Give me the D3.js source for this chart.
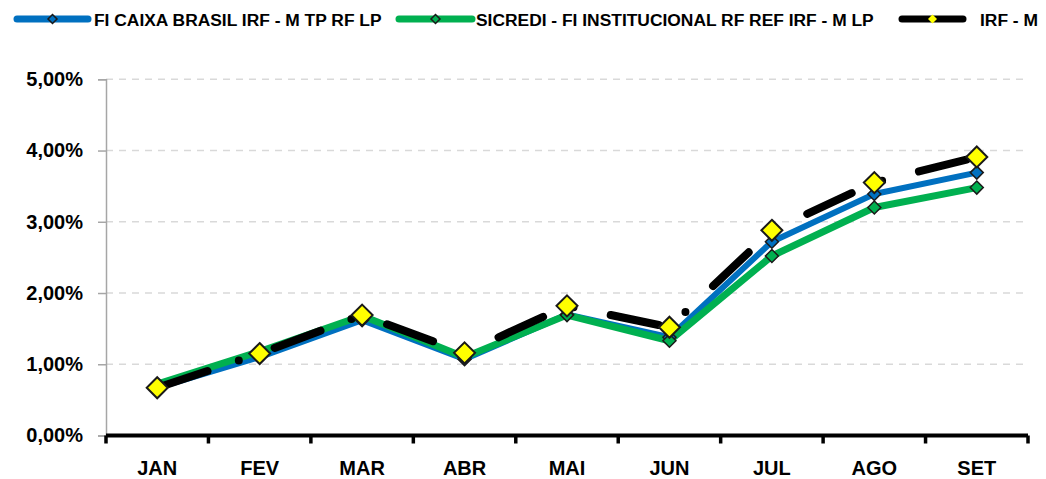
<!DOCTYPE html>
<html>
<head>
<meta charset="utf-8">
<script src="https://cdn.jsdelivr.net/npm/d3@7"></script>
<style>
  body { margin: 0; background: #fff; }
  svg { display: block; font-family: "Liberation Sans", Arial, sans-serif; font-weight: bold; }
</style>
</head>
<body>
<svg id="chart"></svg>
<script>
// data (percent)
var months = ["JAN","FEV","MAR","ABR","MAI","JUN","JUL","AGO","SET"];
var caixa = [0.67, 1.10, 1.62, 1.07, 1.70, 1.38, 2.72, 3.39, 3.69];
var sicredi = [0.72, 1.18, 1.68, 1.10, 1.69, 1.33, 2.52, 3.20, 3.48];
var irfm = [0.67, 1.15, 1.69, 1.16, 1.82, 1.52, 2.88, 3.55, 3.91];
var yTicks = [0, 1, 2, 3, 4, 5];
var seriesNames = ["FI CAIXA BRASIL IRF - M TP RF LP", "SICREDI - FI INSTITUCIONAL RF REF IRF - M LP", "IRF - M"];

const w = 1046, h = 479;
const svg = d3.select("#chart").attr("width", w).attr("height", h);

const plotL = 106, plotR = 1028, plotT = 79.3, plotB = 435.5;

// x scale (bands like excel categories)
const xScale = d3.scaleBand()
  .domain(months)
  .range([plotL, plotR]);

const yScale = d3.scaleLinear()
  .domain([0, 5])
  .range([plotB, plotT]);

const fmt = d => d3.format(".2f")(d).replace(".", ",") + "%";

// gridlines
svg.append("g")
  .selectAll("line")
  .data(yTicks.filter(d => d > 0))
  .join("line")
    .attr("x1", plotL)
    .attr("x2", plotR - 4)
    .attr("y1", d => yScale(d))
    .attr("y2", d => yScale(d))
    .attr("stroke", "#d9d9d9")
    .attr("stroke-width", 1.5)
    .attr("stroke-dasharray", "7 6");

// y axis
const yAxis = d3.axisLeft(yScale).tickValues(yTicks).tickFormat(fmt).tickSize(8).tickPadding(15);
const gy = svg.append("g")
  .attr("transform", `translate(${plotL},0)`)
  .call(yAxis);
gy.select(".domain").attr("stroke", "#a6a6a6").attr("stroke-width", 1.5);
gy.selectAll(".tick line").attr("stroke", "#a6a6a6").attr("stroke-width", 1.5);
gy.selectAll("text")
  .attr("font-size", 20)
  .attr("font-family", "Liberation Sans, Arial, sans-serif")
  .attr("font-weight", "bold")
  .attr("fill", "#000");

// x axis: thick black line with ticks at category boundaries
const boundaries = months.map(m => xScale(m)).concat([plotR]);
svg.append("line")
  .attr("x1", plotL).attr("x2", plotR)
  .attr("y1", plotB).attr("y2", plotB)
  .attr("stroke", "#000").attr("stroke-width", 4);
svg.append("g")
  .selectAll("line")
  .data(boundaries)
  .join("line")
    .attr("x1", d => d).attr("x2", d => d)
    .attr("y1", plotB).attr("y2", plotB + 8)
    .attr("stroke", "#000").attr("stroke-width", 3.5);

svg.append("g")
  .selectAll("text")
  .data(months)
  .join("text")
    .attr("x", d => xScale(d) + xScale.bandwidth() / 2)
    .attr("y", 475)
    .attr("text-anchor", "middle")
    .attr("font-size", 20)
    .text(d => d);

const cx = (d, i) => xScale(months[i]) + xScale.bandwidth() / 2;
const line = d3.line().x(cx).y(d => yScale(d));

function diamond(r) {
  return `M0,${-r}L${r},0L0,${r}L${-r},0Z`;
}

// series lines
svg.append("path").datum(caixa)
  .attr("d", line).attr("fill", "none")
  .attr("stroke", "#0070C0").attr("stroke-width", 6).attr("stroke-linejoin", "round");
svg.append("path").datum(sicredi)
  .attr("d", line).attr("fill", "none")
  .attr("stroke", "#00B050").attr("stroke-width", 7).attr("stroke-linejoin", "round");

// markers caixa + sicredi
svg.append("g").selectAll("path")
  .data(caixa).join("path")
    .attr("d", diamond(6.5))
    .attr("transform", (d, i) => `translate(${cx(d, i)},${yScale(d)})`)
    .attr("fill", "#0070C0").attr("stroke", "#1a1a1a").attr("stroke-width", 1.5);
svg.append("g").selectAll("path")
  .data(sicredi).join("path")
    .attr("d", diamond(6.5))
    .attr("transform", (d, i) => `translate(${cx(d, i)},${yScale(d)})`)
    .attr("fill", "#00B050").attr("stroke", "#1a1a1a").attr("stroke-width", 1.5);

// IRF-M long dash dot
svg.append("path").datum(irfm)
  .attr("d", line).attr("fill", "none")
  .attr("stroke", "#000").attr("stroke-width", 8)
  .attr("stroke-linecap", "round")
  .attr("stroke-dasharray", "49 33 0 38")
  .attr("stroke-dashoffset", -4);
svg.append("g").selectAll("path")
  .data(irfm).join("path")
    .attr("d", diamond(10.5))
    .attr("transform", (d, i) => `translate(${cx(d, i)},${yScale(d)})`)
    .attr("fill", "#FFFF00").attr("stroke", "#1a1a1a").attr("stroke-width", 2);

// legend
var legendItems = [
  {name: seriesNames[0], x1: 17, x2: 88, color: "#0070C0", mfill: "#0070C0", tx: 94},
  {name: seriesNames[1], x1: 399, x2: 472, color: "#00B050", mfill: "#00B050", tx: 476},
  {name: seriesNames[2], x1: 902, x2: 963, color: "#000", mfill: "#FFFF00", tx: 980}
];
const lg = svg.append("g").selectAll("g").data(legendItems).join("g");
lg.append("line")
  .attr("x1", d => d.x1).attr("x2", d => d.x2)
  .attr("y1", 19).attr("y2", 19)
  .attr("stroke", d => d.color).attr("stroke-width", 7).attr("stroke-linecap", "round");
lg.append("path")
  .attr("d", diamond(4.5))
  .attr("transform", d => `translate(${(d.x1 + d.x2) / 2},19)`)
  .attr("fill", d => d.mfill).attr("stroke", d => d.color === "#000" ? "none" : "#1a1a1a").attr("stroke-width", 1.5);
lg.append("text")
  .attr("x", d => d.tx)
  .attr("y", 25.5)
  .attr("font-size", 17.4)
  .text(d => d.name);
</script>
</body>
</html>
